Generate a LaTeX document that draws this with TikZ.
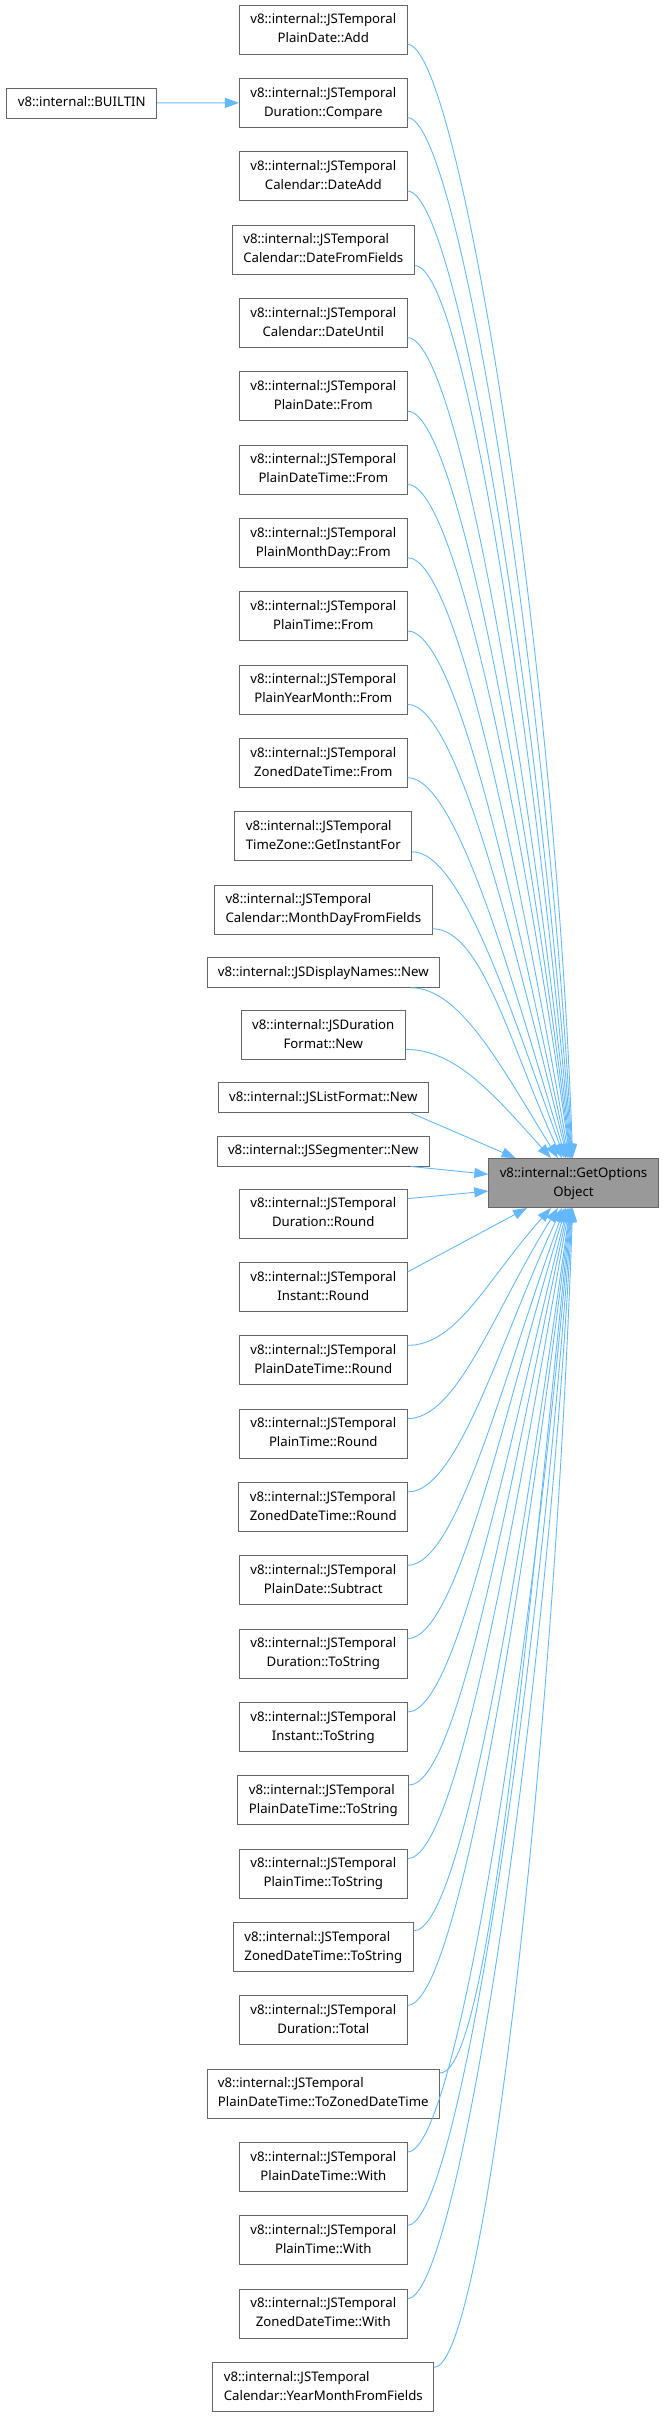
\documentclass[tikz,border=0pt]{standalone}
\usepackage{fontspec}
\setmainfont{Noto Sans}
\usepackage{tikz}
\usetikzlibrary{arrows.meta}

\definecolor{edgeblue}{HTML}{63B8FF}
\definecolor{boxgray}{HTML}{666666}
\definecolor{curgray}{HTML}{999999}

% first row flush left, second row centred
\newcommand{\tworow}[2]{\begin{tabular}{@{}c@{}}\multicolumn{1}{@{}l@{}}{#1}\\#2\end{tabular}}
\newcommand{\jst}[1]{\tworow{v8::internal::JSTemporal}{#1}}

\tikzset{
	fn/.style={draw=boxgray, line width=0.9pt, fill=white, inner xsep=11pt, inner ysep=5.5pt,
		font=\fontsize{13.2}{19}\selectfont},
	cur/.style={fn, fill=curgray},
	call/.style={draw=edgeblue, line width=0.9pt, -{Triangle[length=14pt, width=10pt]}},
}

\begin{document}
\begin{tikzpicture}[x=1pt, y=-1pt]
			\useasboundingbox (0,0) rectangle (665,2417);
			
			% called function
			\node[cur] (get) at (573.5,1183) {\tworow{v8::internal::GetOptions}{Object}};
			\node[fn] (builtin) at (81.7,103) {\strut v8::internal::BUILTIN};
			
			% callers above
			\node[fn] (add) at (323.3,29.5) {\jst{PlainDate::Add}};
			\node[fn] (cmp) at (323.3,102.8) {\jst{Duration::Compare}};
			\node[fn] (caladd) at (323.3,176.2) {\jst{Calendar::DateAdd}};
			\node[fn] (calfields) at (323.3,249.5) {\jst{Calendar::DateFromFields}};
			\node[fn] (caluntil) at (323.3,322.8) {\jst{Calendar::DateUntil}};
			\node[fn] (pdfrom) at (323.3,396.2) {\jst{PlainDate::From}};
			\node[fn] (pdtfrom) at (323.3,469.5) {\jst{PlainDateTime::From}};
			\node[fn] (pmdfrom) at (323.3,542.8) {\jst{PlainMonthDay::From}};
			\node[fn] (ptfrom) at (323.3,616.1) {\jst{PlainTime::From}};
			\node[fn] (pymfrom) at (323.3,689.5) {\jst{PlainYearMonth::From}};
			\node[fn] (zdtfrom) at (323.3,762.8) {\jst{ZonedDateTime::From}};
			\node[fn] (tzinstant) at (323.3,836.1) {\jst{TimeZone::GetInstantFor}};
			\node[fn] (calmonthday) at (323.3,909.5) {\jst{Calendar::MonthDayFromFields}};
			\node[fn] (dnnew) at (323.3,972.3) {\strut v8::internal::JSDisplayNames::New};
			\node[fn] (dfnew) at (323.3,1034.8) {\tworow{v8::internal::JSDuration}{Format::New}};
			\node[fn] (lfnew) at (323.3,1097.5) {\strut v8::internal::JSListFormat::New};
			\node[fn] (segnew) at (323.3,1151) {\strut v8::internal::JSSegmenter::New};
			
			% callers below
			\node[fn] (durround) at (323.3,1213.5) {\jst{Duration::Round}};
			\node[fn] (instround) at (323.3,1286.8) {\jst{Instant::Round}};
			\node[fn] (pdtround) at (323.3,1360.2) {\jst{PlainDateTime::Round}};
			\node[fn] (ptround) at (323.3,1433.5) {\jst{PlainTime::Round}};
			\node[fn] (zdtround) at (323.3,1506.8) {\jst{ZonedDateTime::Round}};
			\node[fn] (pdsub) at (323.3,1580.2) {\jst{PlainDate::Subtract}};
			\node[fn] (durstr) at (323.3,1653.5) {\jst{Duration::ToString}};
			\node[fn] (inststr) at (323.3,1726.8) {\jst{Instant::ToString}};
			\node[fn] (pdtstr) at (323.3,1800.1) {\jst{PlainDateTime::ToString}};
			\node[fn] (ptstr) at (323.3,1873.5) {\jst{PlainTime::ToString}};
			\node[fn] (zdtstr) at (323.3,1946.8) {\jst{ZonedDateTime::ToString}};
			\node[fn] (durtotal) at (323.3,2020.1) {\jst{Duration::Total}};
			\node[fn] (pdtzdt) at (323.3,2093.5) {\jst{PlainDateTime::ToZonedDateTime}};
			\node[fn] (pdtwith) at (323.3,2166.8) {\jst{PlainDateTime::With}};
			\node[fn] (ptwith) at (323.3,2240.1) {\jst{PlainTime::With}};
			\node[fn] (zdtwith) at (323.3,2313.5) {\jst{ZonedDateTime::With}};
			\node[fn] (calym) at (323.3,2386.8) {\jst{Calendar::YearMonthFromFields}};
			
			% calls
			\draw[call] (builtin) -- (cmp);
			\draw[call] (add.-10) .. controls +(0:50pt) and +(92:520pt) .. (get.92);
			\draw[call] (cmp.-10) .. controls +(0:50pt) and +(93:490pt) .. (get.93);
			\draw[call] (caladd.-10) .. controls +(0:50pt) and +(94:455pt) .. (get.94);
			\draw[call] (calfields.-10) .. controls +(0:50pt) and +(95:420pt) .. (get.95);
			\draw[call] (caluntil.-10) .. controls +(0:50pt) and +(96:385pt) .. (get.96);
			\draw[call] (pdfrom.-10) .. controls +(0:50pt) and +(97:350pt) .. (get.97);
			\draw[call] (pdtfrom.-10) .. controls +(0:50pt) and +(98:317pt) .. (get.98);
			\draw[call] (pmdfrom.-10) .. controls +(0:50pt) and +(100:283pt) .. (get.100);
			\draw[call] (ptfrom.-10) .. controls +(0:50pt) and +(102:248pt) .. (get.102);
			\draw[call] (pymfrom.-10) .. controls +(0:50pt) and +(104:214pt) .. (get.104);
			\draw[call] (zdtfrom.-10) .. controls +(0:50pt) and +(107:180pt) .. (get.107);
			\draw[call] (tzinstant.-10) .. controls +(0:50pt) and +(110:150pt) .. (get.110);
			\draw[call] (calmonthday.-10) .. controls +(0:50pt) and +(115:120pt) .. (get.115);
			\draw[call] (dnnew.-10) .. controls +(0:50pt) and +(122:105pt) .. (get.122);
			\draw[call] (dfnew.-10) .. controls +(0:50pt) and +(132:85pt) .. (get.132);
			\draw[call] (lfnew.-10) -- (get);
			\draw[call] (segnew.-10) -- (get);
			\draw[call] (durround.10) -- (get);
			\draw[call] (instround.10) -- (get);
			\draw[call] (pdtround.10) .. controls +(0:50pt) and +(-132:95pt) .. (get.-132);
			\draw[call] (ptround.10) .. controls +(0:50pt) and +(-122:120pt) .. (get.-122);
			\draw[call] (zdtround.10) .. controls +(0:50pt) and +(-115:145pt) .. (get.-115);
			\draw[call] (pdsub.10) .. controls +(0:50pt) and +(-110:175pt) .. (get.-110);
			\draw[call] (durstr.10) .. controls +(0:50pt) and +(-107:205pt) .. (get.-107);
			\draw[call] (inststr.10) .. controls +(0:50pt) and +(-104:240pt) .. (get.-104);
			\draw[call] (pdtstr.10) .. controls +(0:50pt) and +(-102:275pt) .. (get.-102);
			\draw[call] (ptstr.10) .. controls +(0:50pt) and +(-100:305pt) .. (get.-100);
			\draw[call] (zdtstr.10) .. controls +(0:50pt) and +(-98:340pt) .. (get.-98);
			\draw[call] (durtotal.10) .. controls +(0:50pt) and +(-97:375pt) .. (get.-97);
			\draw[call] (pdtzdt.10) .. controls +(0:50pt) and +(-96:410pt) .. (get.-96);
			\draw[call] (pdtwith.10) .. controls +(0:50pt) and +(-95:445pt) .. (get.-95);
			\draw[call] (ptwith.10) .. controls +(0:50pt) and +(-94:480pt) .. (get.-94);
			\draw[call] (zdtwith.10) .. controls +(0:50pt) and +(-93:515pt) .. (get.-93);
			\draw[call] (calym.10) .. controls +(0:50pt) and +(-92:550pt) .. (get.-92);
		\end{tikzpicture}
\end{document}
